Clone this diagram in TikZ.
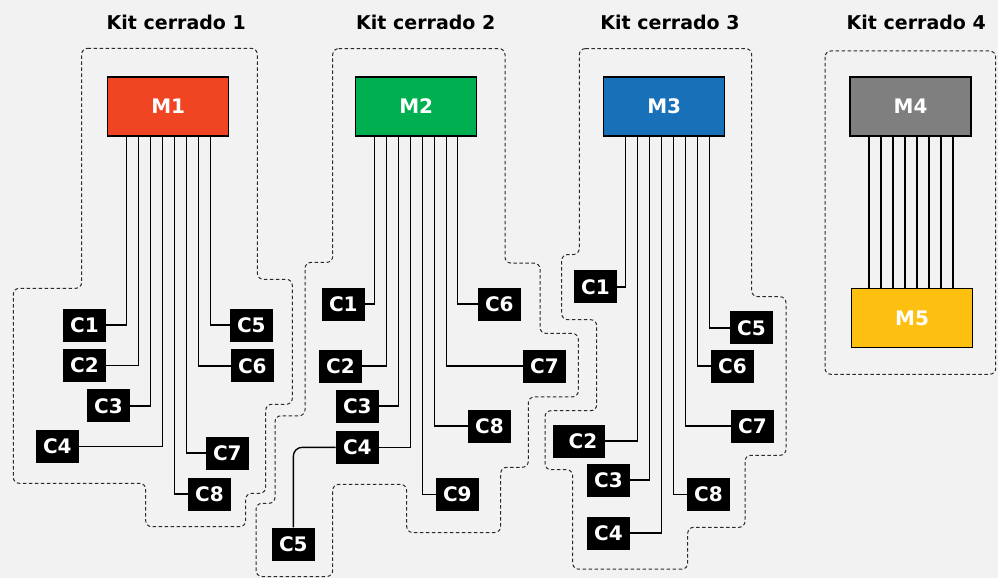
\documentclass[tikz,border=0pt]{standalone}
\usepackage{fontspec}
\setmainfont{DejaVu Sans}
\definecolor{bgc}{HTML}{F2F2F2}
\definecolor{mred}{HTML}{EF4523}
\definecolor{mgreen}{HTML}{00B050}
\definecolor{mblue}{HTML}{1870B8}
\definecolor{mgray}{HTML}{7F7F7F}
\definecolor{myellow}{HTML}{FEC010}
\definecolor{outl}{HTML}{2A2A2A}
\begin{document}
\begin{tikzpicture}[x=1pt,y=-1pt,
  mbox/.style={draw=black,line width=1.5pt,minimum width=121pt,minimum height=59pt,inner sep=0pt,text=white,font=\bfseries\fontsize{20}{21}\selectfont},
  cbox/.style={fill=black,minimum width=43pt,minimum height=33pt,inner sep=0pt,text=white,font=\bfseries\fontsize{20}{21}\selectfont},
  wire/.style={draw=black,line width=1.4pt},
  kit/.style={draw=outl,line width=1pt,dash pattern=on 3.5pt off 2.5pt,rounded corners=6pt},
  title/.style={font=\bfseries\fontsize{19}{20}\selectfont,text=black,inner sep=0pt}]
\fill[bgc] (0,0) rectangle (998,578);

% titles
\node[title] (t1) at (176.3,22) {Kit cerrado 1};
\node[title] (t2) at (425.8,22) {Kit cerrado 2};
\node[title] (t3) at (670,22) {Kit cerrado 3};
\node[title] (t4) at (916.3,22) {Kit cerrado 4};

% outlines
\draw[kit] (81.7,48.3) -- (257.3,48.3) -- (257.3,279.3) -- (292.3,279.3) -- (292.3,404.3) -- (265.7,404.3) -- (265.7,493.3) -- (245.7,493.3) -- (245.7,526.7) -- (145.7,526.7) -- (145.7,483.3) -- (13.3,483.3) -- (13.3,288.3) -- (81.7,288.3) -- cycle;
\draw[kit] (332.7,48.6) -- (505,48.6) -- (505,263.1) -- (540,263.1) -- (540,333.4) -- (578.3,333.4) -- (578.3,396.9) -- (528.3,396.9) -- (528.3,467.3) -- (500.7,467.3) -- (500.7,532.5) -- (406.7,532.5) -- (406.7,484.4) -- (332.7,484.4) -- (332.7,576.5) -- (256,576.5) -- (256,503.3) -- (275,503.3) -- (275,415.8) -- (305,415.8) -- (305,262.4) -- (332.7,262.4) -- cycle;
\draw[kit] (579.3,48.6) -- (751.7,48.6) -- (751.7,296.7) -- (786,296.7) -- (786,455.3) -- (745,455.3) -- (745,527.3) -- (687.7,527.3) -- (687.7,569.2) -- (572.7,569.2) -- (572.7,469.7) -- (545,469.7) -- (545,410.7) -- (596.7,410.7) -- (596.7,319.7) -- (561.7,319.7) -- (561.7,254.5) -- (579.3,254.5) -- cycle;
\draw[kit] (825,51) rectangle (995.7,374.3);

% kit 1
\node[mbox,fill=mred] (M1) at (168.2,106.3) {M1};
\node[cbox] (k1c1) at (84.5,325) {C1};
\node[cbox] (k1c2) at (84.5,365.5) {C2};
\node[cbox] (k1c3) at (108.5,405.8) {C3};
\node[cbox] (k1c4) at (57.3,446.7) {C4};
\node[cbox] (k1c5) at (251.3,325) {C5};
\node[cbox] (k1c6) at (252.3,365.8) {C6};
\node[cbox] (k1c7) at (227.3,453) {C7};
\node[cbox] (k1c8) at (209.5,494) {C8};
\draw[wire] ([xshift=-42pt]M1.south) |- (k1c1);
\draw[wire] ([xshift=-30pt]M1.south) |- (k1c2);
\draw[wire] ([xshift=-18pt]M1.south) |- (k1c3);
\draw[wire] ([xshift=-6pt]M1.south) |- (k1c4);
\draw[wire] ([xshift=6pt]M1.south) |- (k1c8);
\draw[wire] ([xshift=18pt]M1.south) |- (k1c7);
\draw[wire] ([xshift=30pt]M1.south) |- (k1c6);
\draw[wire] ([xshift=42pt]M1.south) |- (k1c5);

% kit 2
\node[mbox,fill=mgreen] (M2) at (416.2,106.3) {M2};
\node[cbox] (k2c1) at (343.3,304) {C1};
\node[cbox] (k2c2) at (340.5,366) {C2};
\node[cbox] (k2c3) at (357.3,406) {C3};
\node[cbox] (k2c4) at (357.3,447.3) {C4};
\node[cbox] (k2c5) at (293.3,544) {C5};
\node[cbox] (k2c6) at (499.3,304) {C6};
\node[cbox] (k2c7) at (544.5,366) {C7};
\node[cbox] (k2c8) at (489.5,426) {C8};
\node[cbox] (k2c9) at (457.3,494.2) {C9};
\draw[wire] ([xshift=-41.5pt]M2.south) |- (k2c1);
\draw[wire] ([xshift=-29.5pt]M2.south) |- (k2c2);
\draw[wire] ([xshift=-17.5pt]M2.south) |- (k2c3);
\draw[wire] ([xshift=-5.5pt]M2.south) |- (k2c4);
\draw[wire] ([xshift=6pt]M2.south) |- (k2c9);
\draw[wire] ([xshift=18pt]M2.south) |- (k2c8);
\draw[wire] ([xshift=30pt]M2.south) |- (k2c7);
\draw[wire] ([xshift=41.5pt]M2.south) |- (k2c6);
\draw[wire,rounded corners=9pt] (k2c4.west) -| (k2c5.north);

% kit 3
\node[mbox,fill=mblue] (M3) at (664.2,106.3) {M3};
\node[cbox] (k3c1) at (595.5,286.8) {C1};
\node[cbox,minimum width=52pt] (k3c2) at (579,441) {\hspace*{8pt}C2};
\node[cbox] (k3c3) at (608.5,480) {C3};
\node[cbox] (k3c4) at (608.5,533) {C4};
\node[cbox] (k3c5) at (751.5,327.8) {C5};
\node[cbox] (k3c6) at (732.5,366) {C6};
\node[cbox] (k3c7) at (752.5,426) {C7};
\node[cbox] (k3c8) at (708.5,494.2) {C8};
\draw[wire] ([xshift=-38.5pt]M3.south) |- (k3c1);
\draw[wire] ([xshift=-26.5pt]M3.south) |- (k3c2);
\draw[wire] ([xshift=-14.5pt]M3.south) |- (k3c3);
\draw[wire] ([xshift=-2.5pt]M3.south) |- (k3c4);
\draw[wire] ([xshift=9.5pt]M3.south) |- (k3c8);
\draw[wire] ([xshift=21.5pt]M3.south) |- (k3c7);
\draw[wire] ([xshift=33.5pt]M3.south) |- (k3c6);
\draw[wire] ([xshift=45.5pt]M3.south) |- (k3c5);

% kit 4
\node[mbox,fill=mgray] (M4) at (910.5,106.3) {M4};
\node[mbox,fill=myellow] (M5) at (912,318) {M5};
\foreach \d [count=\i] in {-41.5,-29.5,-17.5,-5.5,6.5,18.5,30.5,42.5} {
  \coordinate (w\i) at ([xshift=\d pt]M4.south);
  \draw[wire] (w\i) -- (w\i |- M5.north);
}
\end{tikzpicture}
\end{document}
